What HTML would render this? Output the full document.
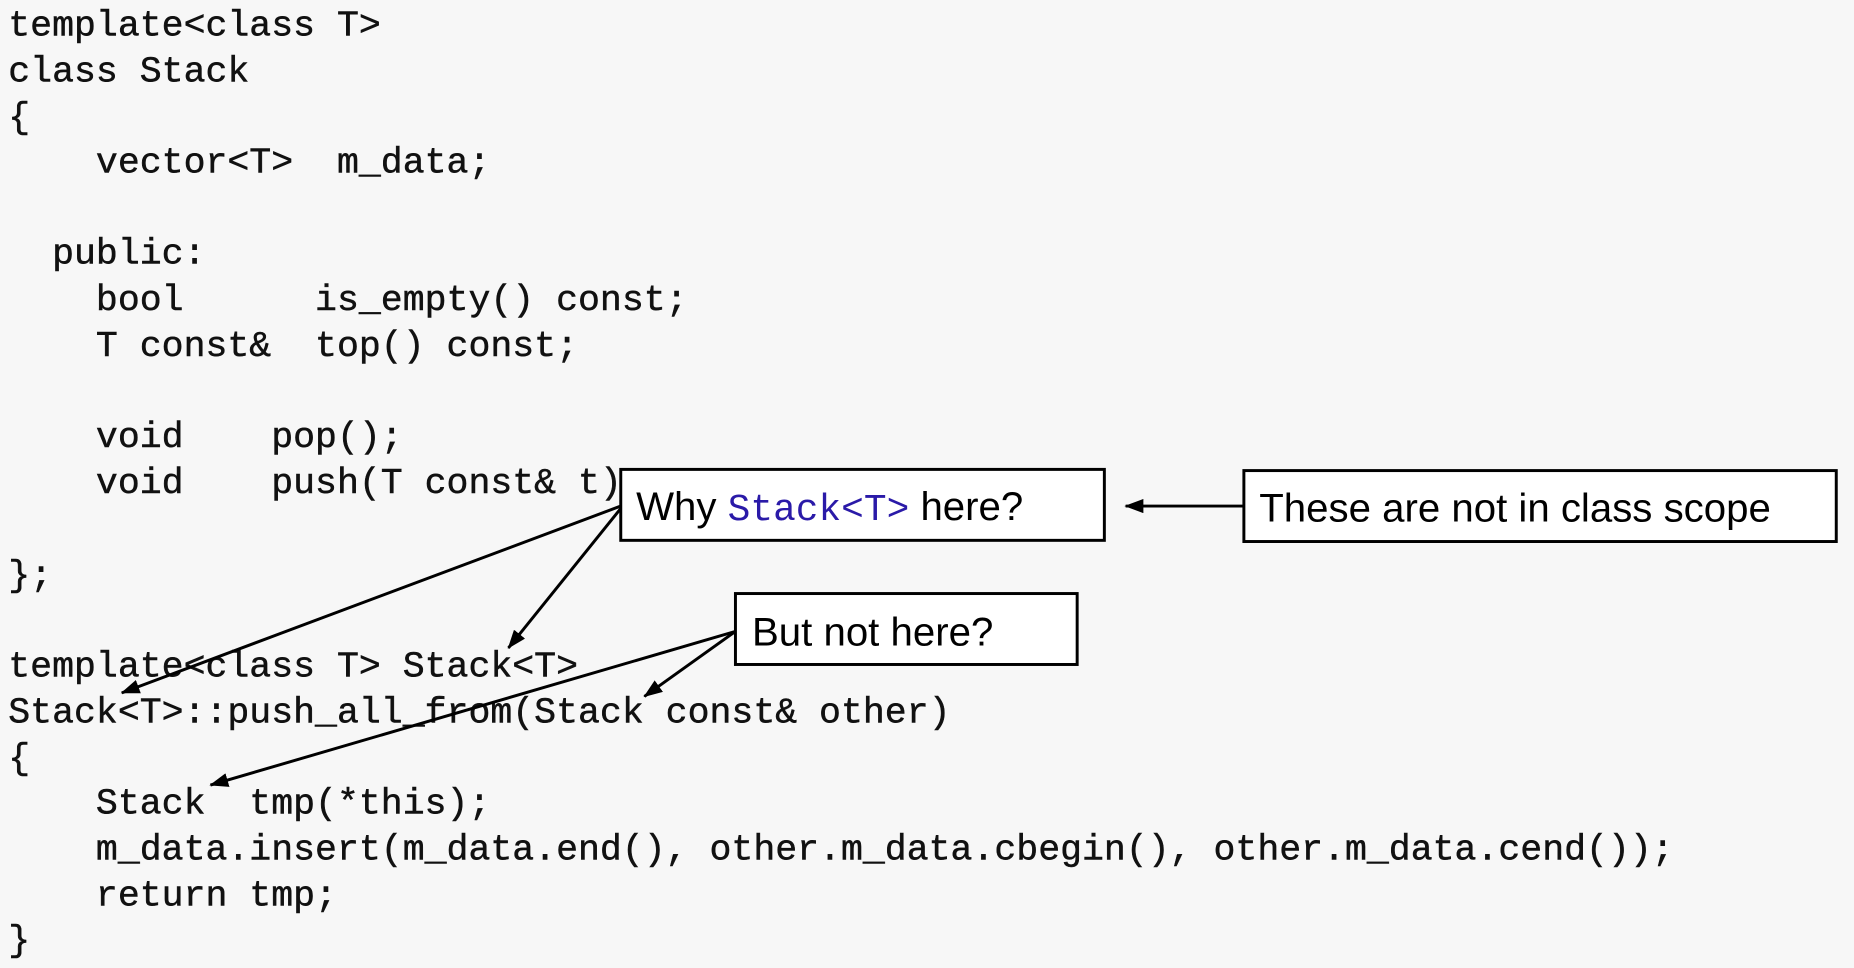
<!DOCTYPE html>
<html><head><meta charset="utf-8"><style>
html,body{margin:0;padding:0;background:#f7f7f7;}
svg{display:block;}
.m{font-family:"Liberation Mono",monospace;font-size:30.9px;fill:#111;stroke:#111;stroke-width:0.4;}
.s{font-family:"Liberation Sans",sans-serif;font-size:34px;fill:#000;}
</style></head><body>
<svg width="1854" height="968" viewBox="0 0 1568 818.7" preserveAspectRatio="none" xmlns="http://www.w3.org/2000/svg">
<defs><marker id="a" markerWidth="16" markerHeight="12" refX="15" refY="6" orient="auto" markerUnits="userSpaceOnUse"><path d="M0,0 L16,6 L0,12 z" fill="#000"/></marker></defs>
<rect width="1568" height="818.7" fill="#f7f7f7"/>
<g class="m">
<text x="7" y="30">template&lt;class T&gt;</text>
<text x="7" y="69">class Stack</text>
<text x="7" y="108">{</text>
<text x="7" y="146">&#160;&#160;&#160;&#160;vector&lt;T&gt;&#160;&#160;m_data;</text>
<text x="7" y="223">&#160;&#160;public:</text>
<text x="7" y="262">&#160;&#160;&#160;&#160;bool&#160;&#160;&#160;&#160;&#160;&#160;is_empty()&#160;const;</text>
<text x="7" y="301">&#160;&#160;&#160;&#160;T&#160;const&amp;&#160;&#160;top()&#160;const;</text>
<text x="7" y="378">&#160;&#160;&#160;&#160;void&#160;&#160;&#160;&#160;pop();</text>
<text x="7" y="417">&#160;&#160;&#160;&#160;void&#160;&#160;&#160;&#160;push(T&#160;const&amp;&#160;t);</text>
<text x="7" y="495">};</text>
<text x="7" y="572">template&lt;class T&gt; Stack&lt;T&gt;</text>
<text x="7" y="611">Stack&lt;T&gt;::push_all_from(Stack const&amp; other)</text>
<text x="7" y="650">{</text>
<text x="7" y="688">&#160;&#160;&#160;&#160;Stack&#160;&#160;tmp(*this);</text>
<text x="7" y="727">&#160;&#160;&#160;&#160;m_data.insert(m_data.end(),&#160;other.m_data.cbegin(),&#160;other.m_data.cend());</text>
<text x="7" y="766">&#160;&#160;&#160;&#160;return&#160;tmp;</text>
<text x="7" y="804">}</text>
</g>
<rect x="525" y="397" width="409" height="60" fill="#fff" stroke="#000" stroke-width="2.5"/>
<rect x="1052" y="398" width="501" height="60" fill="#fff" stroke="#000" stroke-width="2.5"/>
<rect x="622" y="502" width="289" height="60" fill="#fff" stroke="#000" stroke-width="2.5"/>
<text x="538" y="440" class="s">Why <tspan style="font-family:'Liberation Mono',monospace;fill:#2a1aa8;font-size:32px">Stack&lt;T&gt;</tspan> here?</text>
<text x="1065" y="441" class="s">These are not in class scope</text>
<text x="636" y="546" class="s">But not here?</text>
<g stroke="#000" stroke-width="2.5" fill="none" marker-end="url(#a)">
<line x1="525" y1="428" x2="103" y2="586"/>
<line x1="525" y1="430" x2="430" y2="548"/>
<line x1="1052" y1="428" x2="952" y2="428"/>
<line x1="622" y1="534" x2="545" y2="589"/>
<line x1="622" y1="534" x2="178" y2="664"/>
</g>
</svg>
</body></html>
